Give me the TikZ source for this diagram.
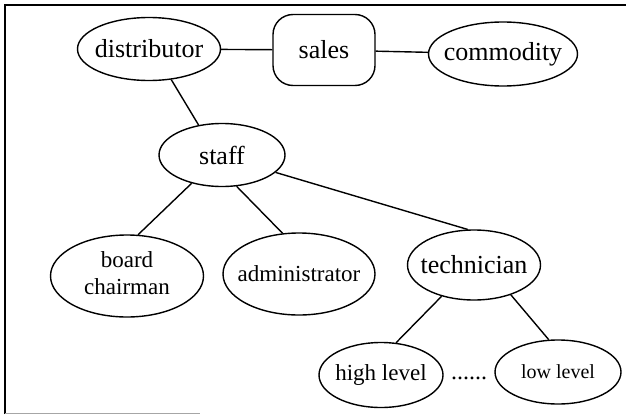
\documentclass[tikz,border=0pt]{standalone}
\usepackage{fontspec}
\setmainfont{Liberation Serif}
\usetikzlibrary{shapes.geometric}
\newcommand{\zbox}[1]{\makebox[0pt]{#1}}
\tikzset{
  ell/.style={draw, ellipse, inner sep=0pt, line width=1.4pt},
  rbox/.style={draw, rectangle, rounded corners=20pt, inner sep=0pt, line width=1.4pt},
  lnk/.style={line width=1.4pt},
  big/.style={font=\fontsize{26}{29}\selectfont},
  mid/.style={font=\fontsize{23}{27}\selectfont},
  sml/.style={font=\fontsize{20}{24}\selectfont},
  dotf/.style={font=\fontsize{24}{28}\selectfont}
}
\begin{document}
\begin{tikzpicture}[x=1pt,y=-1pt]
\useasboundingbox (0,0) rectangle (626,415);
% frame
\draw[line width=1.4pt] (5,414) -- (5,5) -- (626,5);
\draw[line width=1pt, black!35] (5,413) -- (200,413);
% nodes
\node[ell, big, minimum width=143pt, minimum height=63pt] (dist) at (149,49) {\zbox{distributor}};
\node[rbox, big, minimum width=102pt, minimum height=71pt] (sales) at (324,50) {\zbox{sales}};
\node[ell, big, minimum width=149pt, minimum height=64pt] (comm) at (503,54) {\zbox{commodity}};
\node[ell, big, minimum width=126pt, minimum height=63pt] (staff) at (222,155) {\zbox{staff}};
\node[ell, mid, minimum width=153pt, minimum height=82pt] (board) at (127,276) {\zbox{\begin{tabular}{@{}c@{}}board\\chairman\end{tabular}}};
\node[ell, mid, minimum width=152pt, minimum height=82pt] (admin) at (299,274) {\zbox{administrator}};
\node[ell, big, minimum width=133pt, minimum height=70pt] (tech) at (474,265) {\zbox{technician}};
\node[ell, mid, minimum width=124pt, minimum height=65pt] (high) at (381,375) {\zbox{high level}};
\node[ell, sml, minimum width=126pt, minimum height=64pt] (low) at (558,372) {\zbox{low level}};
\node[dotf, inner sep=0pt] (dots) at (469,378) {......};
% connectors
\draw[lnk] (dist) -- (sales);
\draw[lnk] (sales) -- (comm);
\draw[lnk] (dist.306) -- (staff.128);
\draw[lnk] (staff.223) -- (board.75);
\draw[lnk] (staff.295) -- (admin.112);
\draw[lnk] (staff.-18) -- (tech.100);
\draw[lnk] (tech.224) -- (high.65);
\draw[lnk] (tech.321) -- (low.106);
\end{tikzpicture}
\end{document}
